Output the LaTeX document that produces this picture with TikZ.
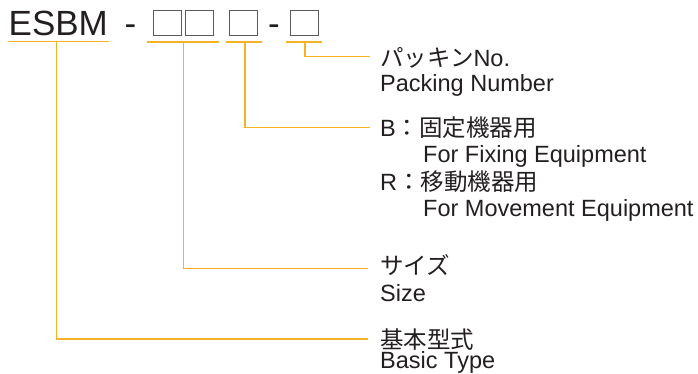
\documentclass[tikz,border=0pt]{standalone}
\usepackage{fontspec}
\setmainfont{Liberation Sans}
\newfontfamily\jp{Noto Sans CJK JP}
\definecolor{lead}{RGB}{246,178,38}
\definecolor{ink}{RGB}{35,31,32}
\definecolor{boxgray}{RGB}{90,90,90}
\begin{document}
\begin{tikzpicture}[x=1pt,y=-1pt,
  lbl/.style={anchor=base west,inner sep=0,text=ink,font=\fontsize{23.5}{26}\selectfont},
  big/.style={anchor=base west,inner sep=0,text=ink,font=\fontsize{35}{38}\selectfont},
  slot/.style={draw=boxgray,line width=1.4pt,minimum width=28pt,minimum height=25.5pt,inner sep=0,anchor=north west},
  leader/.style={draw=lead,line width=1.5pt}]
\useasboundingbox (0,0) rectangle (698,373);
% code line
\node[big] (esbm) at (8.5,35) {ESBM};
\node[big,anchor=base] (h1) at (130.5,35) {-};
\node[slot] (b1) at (153,9.5) {};
\node[slot] (b2) at (184.5,9.5) {};
\node[slot] (b3) at (229,9.5) {};
\node[big,anchor=base] (h2) at (274,35) {-};
\node[slot] (b4) at (289.5,9.5) {};
% underlines
\coordinate (u1a) at (8,41.5); \coordinate (u1b) at (109,41.5);
\coordinate (u2a) at (147,42); \coordinate (u2b) at (219,42);
\coordinate (u3a) at (226,42); \coordinate (u3b) at (262,42);
\coordinate (u4a) at (286,42); \coordinate (u4b) at (322,42);
\draw[leader] (u1a) -- (u1b);
\draw[leader] (u2a) -- (u2b);
\draw[leader] (u3a) -- (u3b);
\draw[leader] (u4a) -- (u4b);
% labels
\node[lbl] (pk) at (380,66) {{\jp パッキン}No.};
\node[lbl] (pke) at (380,91.7) {Packing Number};
\node[lbl] (fb) at (380,136.7) {B{\jp ：固定機器用}};
\node[lbl] (fbe) at (423,162.7) {For Fixing Equipment};
\node[lbl] (fr) at (380,190) {R{\jp ：移動機器用}};
\node[lbl] (fre) at (423,216) {For Movement Equipment};
\node[lbl] (sz) at (380,274.5) {\jp サイズ};
\node[lbl] (sze) at (380,301) {Size};
\node[lbl] (bt) at (380,348) {\jp 基本型式};
\node[lbl] (bte) at (380,368) {Basic Type};
% leader end points
\coordinate (e4) at (370,56.5);
\coordinate (e3) at (370,127.5);
\coordinate (e2) at (368,268.5);
\coordinate (e1) at (368,339);
\draw[leader] (305,42) |- (e4);
\draw[leader] (245,42) |- (e3);
\draw[leader] (183.3,42) |- (e2);
\draw[leader] (56.7,41.5) |- (e1);
\end{tikzpicture}
\end{document}
